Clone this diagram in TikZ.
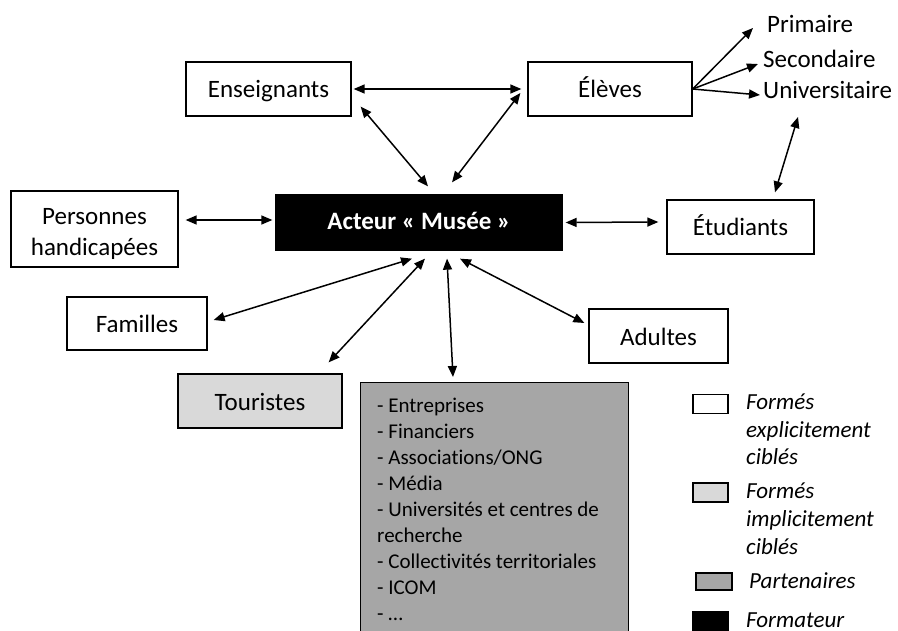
\documentclass[tikz,border=0pt]{standalone}
\usepackage{fontspec}
\setmainfont{Carlito}[Ligatures=NoCommon]
\usetikzlibrary{arrows.meta}
\begin{document}
\begin{tikzpicture}[x=1bp,y=-1bp,
  box/.style={draw=black, line width=1.3bp, fill=white, minimum height=54bp, inner sep=0pt,
    font=\fontsize{25bp}{31bp}\selectfont, align=center, text height=23bp, text depth=5bp},
  lbl/.style={inner sep=0pt, anchor=base west, font=\fontsize{25bp}{31bp}\selectfont},
  leg/.style={inner sep=0pt, anchor=base west, font=\fontsize{23bp}{28bp}\selectfont\itshape},
  legbox/.style={draw=black, line width=1.3bp, minimum width=35bp, minimum height=19bp, inner sep=0pt},
  dbl/.style={line width=1.5bp, {Triangle[length=11bp,width=9bp]}-{Triangle[length=11bp,width=9bp]}},
  sgl/.style={line width=1.5bp, -{Triangle[length=11bp,width=9bp]}},
]
\clip (0,0) rectangle (898,631);
\fill[white] (0,0) rectangle (898,631);

% boxes
\node[box, minimum width=165bp] (ens) at (268.5,89) {Enseignants};
\node[box, minimum width=164bp] (elv) at (610,89) {Élèves};
\node[box, minimum width=167bp, minimum height=76bp, text height=58bp, text depth=6bp] (pers) at (94.5,229) {Personnes\\handicapées};
\node[box, minimum width=286bp, minimum height=55bp, fill=black, text=white, text height=20bp,
  font=\fontsize{25bp}{31bp}\selectfont\bfseries] (act) at (419,222.5) {Acteur « Musée »};
\node[box, minimum width=147bp] (etu) at (740.5,227) {Étudiants};
\node[box, minimum width=140bp, minimum height=53bp] (fam) at (137,323.5) {Familles};
\node[box, minimum width=139bp] (adu) at (658.5,336) {Adultes};
\node[box, minimum width=164bp, fill=black!15] (tou) at (260,401) {Touristes};
\node[draw=black, line width=1.3bp, fill=black!35, minimum width=268bp, minimum height=280bp, anchor=north west, inner sep=0pt] (part) at (360,382) {};
\node[anchor=north west, align=left, inner sep=0pt, font=\fontsize{21bp}{26bp}\selectfont] (plist) at (377,398)
  {- Entreprises\\- Financiers\\- Associations/ONG\\- Média\\- Universités et centres de\\recherche\\- Collectivités territoriales\\- ICOM\\- …};

% levels
\node[lbl] (prim) at (767,33) {Primaire};
\node[lbl] (sec) at (763,68) {Secondaire};
\node[lbl] (uni) at (763,99) {Universitaire};

% legend
\node[legbox, fill=white] (lb1) at (710.5,404) {};
\node[leg] (l1a) at (746,409.5) {Formés};
\node[leg] (l1b) at (746,437) {explicitement};
\node[leg] (l1c) at (746,464.5) {ciblés};
\node[legbox, fill=black!15] (lb2) at (710.5,492.5) {};
\node[leg] (l2a) at (746,498) {Formés};
\node[leg] (l2b) at (746,526) {implicitement};
\node[leg] (l2c) at (746,554) {ciblés};
\node[legbox, fill=black!35, minimum width=36bp, minimum height=17bp] (lb3) at (714,581.5) {};
\node[leg] (l3) at (749,588) {Partenaires};
\node[legbox, fill=black] (lb4) at (710.5,621.5) {};
\node[leg] (l4) at (746,627) {Formateur};

% connectors
\draw[dbl] ([shift={(2,0)}]ens.east) -- ([shift={(-6,0)}]elv.west);
\draw[dbl] ([shift={(9,-10)}]ens.south east) -- ([shift={(9,-8)}]act.north);
\draw[dbl] ([shift={(-7,4)}]elv.west) -- ([shift={(33,-12)}]act.north);
\draw[dbl] ([shift={(7,-9)}]pers.east) -- ([shift={(-3,-2.5)}]act.west);
\draw[dbl] ([shift={(3,0)}]act.east) -- ([shift={(-8,-5)}]etu.west);
\draw[dbl] ([shift={(6,-3.5)}]fam.east) -- ([shift={(-7,8)}]act.south);
\draw[dbl] ([shift={(-14,-11)}]tou.north east) -- ([shift={(6,8)}]act.south);
\draw[dbl] ([shift={(93,-5)}]part.north west) -- ([shift={(28,8)}]act.south);
\draw[dbl] ([shift={(-4,-13)}]adu.west) -- ([shift={(41,8)}]act.south);
\draw[sgl] (elv.east) -- ([shift={(-14,-5)}]prim.base west);
\draw[sgl] (elv.east) -- ([shift={(-5,-4)}]sec.base west);
\draw[sgl] (elv.east) -- ([shift={(-3,-4)}]uni.base west);
\draw[dbl] ([shift={(35,18)}]uni.base west) -- ([shift={(34.5,-7)}]etu.north);
\end{tikzpicture}
\end{document}
